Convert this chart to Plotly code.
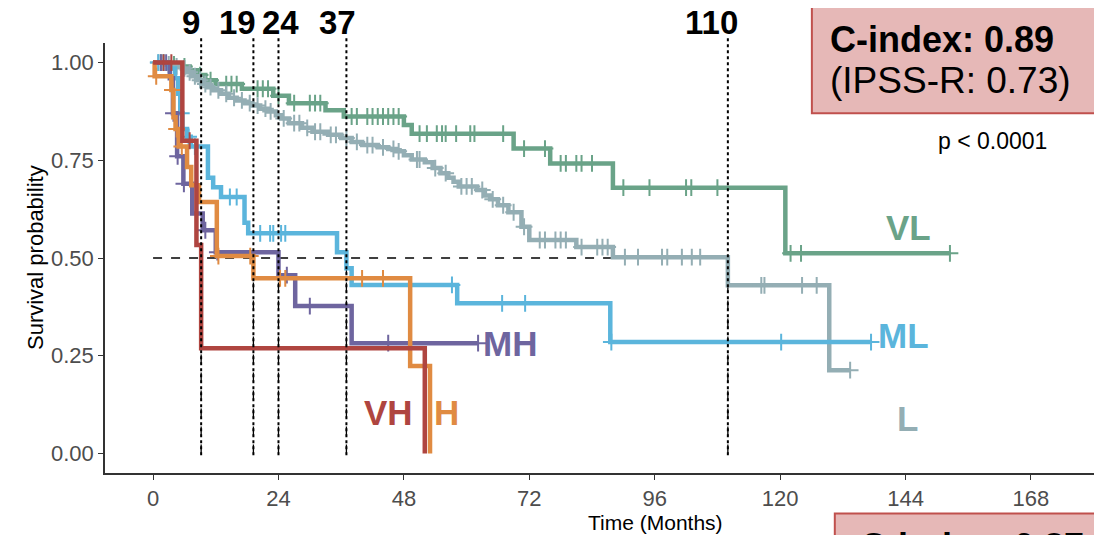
import numpy as np
import plotly.graph_objects as go

FONT = "Liberation Sans, Arial, sans-serif"

# ---------------- data (Kaplan-Meier step curves) ----------------
groups = ["VL", "L", "ML", "MH", "H", "VH"]
colors = {"VL": "#6AA388", "L": "#94AEB4", "ML": "#5BB5DC", "MH": "#6E659F",
          "H": "#E08B42", "VH": "#AF4540"}

vl_t = [0, 3, 5, 7, 8.5, 10, 12, 17, 23, 26, 33, 36.5, 48, 49.5, 69, 76, 88, 121]
vl_s = [1.0, 0.995, 0.99, 0.98, 0.968, 0.955, 0.945, 0.933, 0.915, 0.896, 0.878, 0.862,
        0.84, 0.818, 0.78, 0.742, 0.68, 0.512]
vl_end = 152.5
vl_cens = [1.5, 4, 6, 9, 11, 14, 15, 16, 20, 21, 22, 24, 27, 30, 31, 32, 38, 39, 41, 42, 43,
           44, 45, 46, 47, 51, 52.4, 54.3, 55.3, 56, 58, 60.7, 61.5, 67, 71, 75, 78, 79, 81,
           82, 84, 90, 95, 102, 103, 108, 122, 124, 152.5]

l_t = [0, 2.5, 4, 5.5, 6.5, 7.5, 8.5, 9.5, 10.5, 11.5, 13, 14.5, 16, 17.5, 19, 20.5, 22,
       23.5, 24.5, 26, 28.5, 30.5, 33.5, 36, 38, 40, 43, 45, 46.5, 48, 49.5, 52, 53.5, 55,
       56.5, 57.5, 58.5, 62, 63.5, 64.5, 66, 68, 70.5, 72, 81, 88, 110, 129.4]
l_s = [1.0, 0.995, 0.99, 0.985, 0.975, 0.965, 0.955, 0.945, 0.937, 0.929, 0.92, 0.91, 0.903,
       0.896, 0.89, 0.882, 0.875, 0.865, 0.857, 0.845, 0.833, 0.823, 0.815, 0.807, 0.797,
       0.789, 0.783, 0.779, 0.773, 0.763, 0.752, 0.745, 0.73, 0.717, 0.705, 0.695, 0.683,
       0.674, 0.66, 0.65, 0.635, 0.617, 0.58, 0.546, 0.528, 0.502, 0.43, 0.213]
l_end = 133.4
l_cens = [1, 2, 3, 4.5, 6, 7, 8, 9, 10, 11, 12.5, 14, 15.5, 17, 18.5, 20, 21.5, 22.5, 25, 27,
          28, 29.5, 31, 32, 34, 35, 37, 39, 41, 42, 44, 46, 47, 50.5, 51, 54, 56, 59, 60, 61,
          63, 65, 67, 69, 71, 74, 75, 77, 78, 79, 82, 85, 86, 87, 90.3, 92.8, 97.4, 98.4,
          101.2, 103.1, 104.7, 116.4, 117, 124.2, 127, 133.4]

ml_t = [0, 3, 4.2, 4.8, 5.2, 5.6, 6.5, 7.2, 10.5, 11.5, 13, 17.5, 18.2, 35.2, 37, 38, 58.2, 87.5]
ml_s = [1.0, 0.985, 0.96, 0.92, 0.87, 0.83, 0.81, 0.785, 0.705, 0.681, 0.656, 0.59, 0.563,
        0.515, 0.474, 0.431, 0.384, 0.285]
ml_end = 137.4
ml_cens = [1, 2, 5.4, 6.8, 8, 14.7, 16, 20.5, 22.4, 23, 24.5, 25.3, 57.2, 66.8, 71.2, 87.7,
           120.2, 137.4]

mh_t = [0, 3.2, 3.8, 4.6, 5.8, 7.5, 9.5, 12, 24, 27.2, 38]
mh_s = [1.0, 0.96, 0.87, 0.76, 0.69, 0.614, 0.571, 0.515, 0.456, 0.377, 0.282]
mh_end = 62.2
mh_cens = [1.5, 2.5, 3.9, 4.7, 5.9, 10, 12.3, 25.6, 30, 45, 62.2]

h_t = [0, 0.3, 3.5, 3.9, 4.3, 4.9, 6.5, 7.3, 8.8, 12.2, 19.2, 49.2, 53]
h_s = [1.0, 0.965, 0.93, 0.86, 0.83, 0.785, 0.733, 0.686, 0.643, 0.505, 0.448, 0.224, 0.0]
h_end = 53
h_cens = [0.6, 3.7, 4.5, 5.5, 12.5, 18.6, 24.3, 25.3, 40, 44]

vh_t = [0, 5.6, 8.3, 9.2, 52]
vh_s = [1.0, 0.80, 0.533, 0.269, 0.0]
vh_end = 52
vh_cens = [2, 3.5, 7]

curves = {
    "VL": (vl_t, vl_s, vl_end, vl_cens),
    "L": (l_t, l_s, l_end, l_cens),
    "ML": (ml_t, ml_s, ml_end, ml_cens),
    "MH": (mh_t, mh_s, mh_end, mh_cens),
    "H": (h_t, h_s, h_end, h_cens),
    "VH": (vh_t, vh_s, vh_end, vh_cens),
}

# median survival times (months) and their labels
medians = [9.2, 19.2, 24.0, 37.0, 110.0]
median_labels = ["9", "19", "24", "37", "110"]
median_label_x = [7.3, 16.2, 24.3, 35.2, 106.8]

# curve label positions (months, survival)
label_pos = {"VL": (144.5, 0.578), "ML": (143.7, 0.303), "L": (144.3, 0.09),
             "MH": (68.4, 0.281), "VH": (45.1, 0.104), "H": (56.1, 0.104)}

x_ticks = [0, 24, 48, 72, 96, 120, 144, 168]
y_ticks = [0, 0.25, 0.5, 0.75, 1.0]
y_ticktext = ["0.00", "0.25", "0.50", "0.75", "1.00"]


def surv_at(t_arr, s_arr, t):
    idx = np.searchsorted(np.array(t_arr), t, side="right") - 1
    return s_arr[max(idx, 0)]


fig = go.Figure()

# reference lines
fig.add_shape(type="line", xref="x", yref="y", x0=0, x1=medians[-1], y0=0.5, y1=0.5,
              line=dict(color="black", width=1.3, dash="dash"), layer="below")
for m in medians:
    fig.add_shape(type="line", xref="x", yref="y", x0=m, x1=m, y0=0, y1=0.5,
                  line=dict(color="black", width=1.3, dash="dash"), layer="below")

for g in groups:
    t, s, end, cens = curves[g]
    tx = list(t)
    sy = list(s)
    if end > tx[-1]:
        tx.append(end)
        sy.append(sy[-1])
    fig.add_trace(go.Scatter(x=tx, y=sy, mode="lines",
                             line=dict(shape="hv", width=4.5, color=colors[g]),
                             showlegend=False, hoverinfo="skip"))
    cy = [surv_at(t, s, c) for c in cens]
    fig.add_trace(go.Scatter(x=cens, y=cy, mode="markers",
                             marker=dict(symbol="cross-thin", size=12,
                                         line=dict(width=2, color=colors[g])),
                             showlegend=False, hoverinfo="skip"))

# dotted median lines (extend above the panel)
for m in medians:
    fig.add_shape(type="line", xref="x", yref="paper", x0=m, x1=m, y0=0.041, y1=1.012,
                  line=dict(color="black", width=2, dash="dot"))

ann = []
for lab, lx in zip(median_labels, median_label_x):
    ann.append(dict(x=lx, y=1.047, xref="x", yref="paper", text=f"<b>{lab}</b>",
                    showarrow=False, font=dict(family=FONT, size=33, color="black"),
                    xanchor="center", yanchor="middle"))

for g in groups:
    px_, py_ = label_pos[g]
    ann.append(dict(x=px_, y=py_, xref="x", yref="y", text=f"<b>{g}</b>", showarrow=False,
                    font=dict(family=FONT, size=35, color=colors[g]),
                    xanchor="center", yanchor="middle"))

# C-index box (top right)
fig.add_shape(type="rect", xref="paper", yref="paper", x0=0.709, x1=1.05, y0=0.8365, y1=1.092,
              fillcolor="#E6B8B7", line=dict(color="#C0504D", width=2))
ann.append(dict(x=0.7255, y=1.008, xref="paper", yref="paper", text="<b>C-index: 0.89</b>",
                showarrow=False, font=dict(family=FONT, size=36, color="black"),
                xanchor="left", yanchor="middle"))
ann.append(dict(x=0.7255, y=0.913, xref="paper", yref="paper", text="(IPSS-R: 0.73)",
                showarrow=False, font=dict(family=FONT, size=37, color="black"),
                xanchor="left", yanchor="middle"))
ann.append(dict(x=160.7, y=0.771, xref="x", yref="paper", text="p < 0.0001",
                showarrow=False, font=dict(family=FONT, size=23, color="black"),
                xanchor="center", yanchor="middle"))

# partial box at bottom right (cut off by the image edge)
fig.add_shape(type="rect", xref="paper", yref="paper", x0=0.732, x1=1.05, y0=-0.3, y1=-0.094,
              fillcolor="#E6B8B7", line=dict(color="#C0504D", width=2))
ann.append(dict(x=0.755, y=-0.17, xref="paper", yref="paper", text="<b>C-index: 0.87</b>",
                showarrow=False, font=dict(family=FONT, size=36, color="black"),
                xanchor="left", yanchor="middle"))

# axis titles
ann.append(dict(x=96.2, y=-0.116, xref="x", yref="paper", text="Time (Months)",
                showarrow=False, font=dict(family=FONT, size=21, color="black"),
                xanchor="center", yanchor="middle"))
ann.append(dict(x=-0.0702, y=0.5, xref="paper", yref="paper", text="Survival probability",
                textangle=-90, showarrow=False, font=dict(family=FONT, size=22, color="black"),
                xanchor="center", yanchor="middle"))

# The page body has an 8 px margin, so the figure is sized to fill the rest of the window.
fig.update_layout(
    width=1094, height=527,
    margin=dict(l=97, r=0, t=35, b=62, pad=0),
    paper_bgcolor="white", plot_bgcolor="white",
    showlegend=False,
    annotations=ann,
    xaxis=dict(range=[-9.2, 181.6], tickvals=x_ticks, showgrid=False, zeroline=False,
               showline=True, linecolor="#333333", linewidth=1.6, ticks="outside",
               ticklen=5, tickwidth=1.4, tickcolor="#333333",
               tickfont=dict(family=FONT, size=22, color="#4D4D4D")),
    yaxis=dict(range=[-0.05, 1.05], tickvals=y_ticks, ticktext=y_ticktext, showgrid=False,
               zeroline=False, showline=True, linecolor="#333333", linewidth=1.6,
               ticks="outside", ticklen=5, tickwidth=1.4, tickcolor="#333333",
               tickfont=dict(family=FONT, size=22, color="#4D4D4D")),
)

fig.write_html("out.html")
